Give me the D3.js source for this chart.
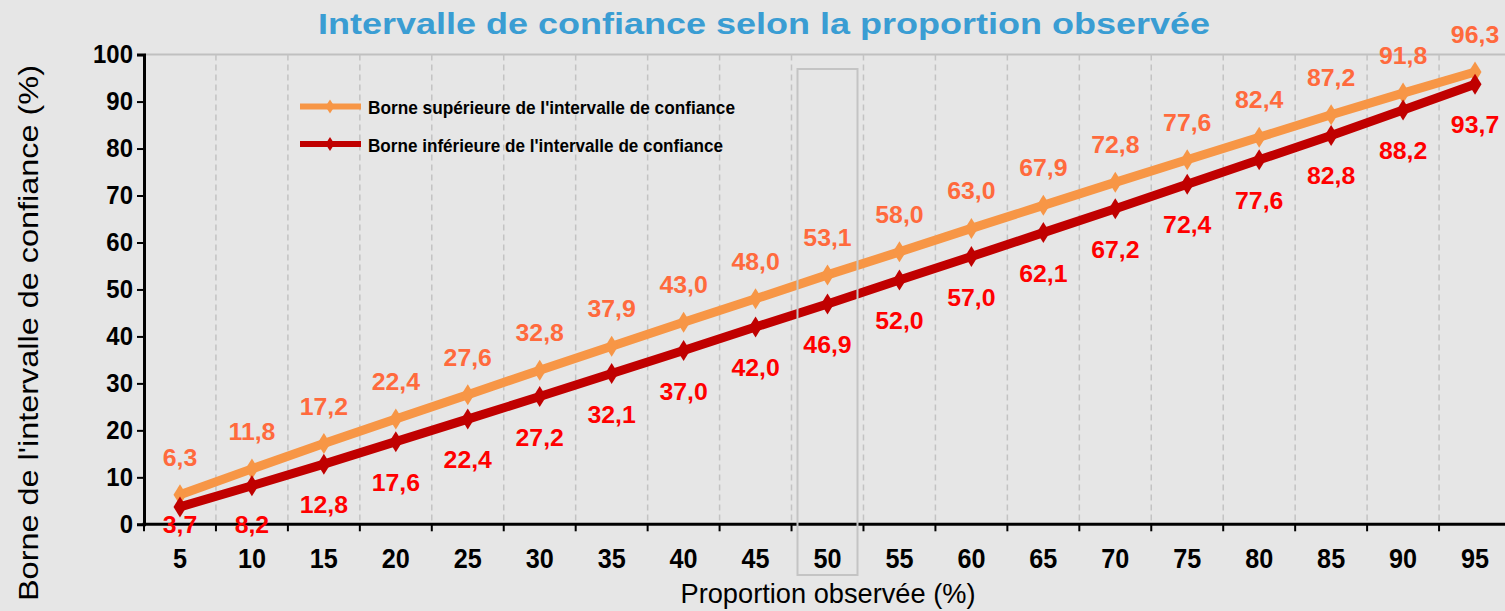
<!DOCTYPE html>
<html lang="fr">
<head>
<meta charset="utf-8">
<script src="https://cdn.jsdelivr.net/npm/d3@7"></script>
<style>
  html, body { margin: 0; padding: 0; background: #e6e6e6; }
  svg { display: block; font-family: "Liberation Sans", Arial, sans-serif; }
</style>
</head>
<body>
<svg id="graphe" width="1505" height="611"></svg>
<script>
// proportions observees (%) sur l'axe x
var proportions = [5, 10, 15, 20, 25, 30, 35, 40, 45, 50, 55, 60, 65, 70, 75, 80, 85, 90, 95];
// bornes
var borneSup = [6.3, 11.8, 17.2, 22.4, 27.6, 32.8, 37.9, 43.0, 48.0, 53.1, 58.0, 63.0, 67.9, 72.8, 77.6, 82.4, 87.2, 91.8, 96.3];
var borneInf = [3.7, 8.2, 12.8, 17.6, 22.4, 27.2, 32.1, 37.0, 42.0, 46.9, 52.0, 57.0, 62.1, 67.2, 72.4, 77.6, 82.8, 88.2, 93.7];
var ticksY = [0, 10, 20, 30, 40, 50, 60, 70, 80, 90, 100];
var categorieMiseEnAvant = 50;

var series = [
  { nom: "Borne supérieure de l'intervalle de confiance", valeurs: borneSup, ligne: "#f79646", texte: "#ff6a3d", decal: -37 },
  { nom: "Borne inférieure de l'intervalle de confiance", valeurs: borneInf, ligne: "#c00000", texte: "#ff0000", decal: 41 }
];

var svg = d3.select("#graphe");
var gauche = 144, droite = 1511, haut = 54.6, bas = 524.3;

var x = d3.scaleBand().domain(proportions).range([gauche, droite]).paddingInner(0).paddingOuter(0);
var y = d3.scaleLinear().domain([0, 100]).range([bas, haut]);

var fr = d3.formatLocale({ decimal: ",", thousands: " ", grouping: [3], currency: ["", " €"] });
var fmt = fr.format(".1f");

// titre
svg.append("text")
  .attr("x", 764).attr("y", 34)
  .attr("text-anchor", "middle")
  .attr("font-size", 29).attr("font-weight", "bold")
  .attr("fill", "#3a9dd3")
  .attr("textLength", 892).attr("lengthAdjust", "spacingAndGlyphs")
  .text("Intervalle de confiance selon la proportion observée");

// ligne du haut
svg.append("line")
  .attr("x1", gauche).attr("x2", 1505)
  .attr("y1", y(100)).attr("y2", y(100))
  .attr("stroke", "#c0c0c0").attr("stroke-width", 2);

// grille verticale pointillee entre categories
var limites = proportions.slice(1).map(function (p) { return x(p); }).concat([x(proportions[proportions.length - 1]) + x.bandwidth()]);
svg.append("g").selectAll("line").data(limites).enter().append("line")
  .attr("x1", function (d) { return d; }).attr("x2", function (d) { return d; })
  .attr("y1", y(100)).attr("y2", bas)
  .attr("stroke", "#c3c3c3").attr("stroke-width", 1.5)
  .attr("stroke-dasharray", "6,4");

// axe y
var axeY = svg.append("g")
  .attr("transform", "translate(" + gauche + ",0)")
  .call(d3.axisLeft(y).tickValues(ticksY).tickSize(7).tickPadding(5).tickFormat(d3.format("d")));
axeY.select(".domain").attr("stroke", "#000").attr("stroke-width", 3);
axeY.selectAll(".tick line").attr("stroke", "#000").attr("stroke-width", 2);
axeY.selectAll(".tick text")
  .attr("font-size", 26).attr("font-weight", "bold").attr("fill", "#000")
  .attr("font-family", "Liberation Sans, Arial, sans-serif")
  .attr("transform", "scale(0.92,1)");

// axe x : ligne, petites marques aux limites, etiquettes au centre
svg.append("line")
  .attr("x1", gauche - 1.5).attr("x2", 1505)
  .attr("y1", bas).attr("y2", bas)
  .attr("stroke", "#000").attr("stroke-width", 3);
svg.append("g").selectAll("line").data([gauche].concat(limites)).enter().append("line")
  .attr("x1", function (d) { return d; }).attr("x2", function (d) { return d; })
  .attr("y1", bas).attr("y2", bas + 7)
  .attr("stroke", "#000").attr("stroke-width", 2);
svg.append("g").selectAll("text").data(proportions).enter().append("text")
  .attr("transform", function (d) {
    return "translate(" + (x(d) + x.bandwidth() / 2) + ",568) scale(0.9,1)";
  })
  .attr("text-anchor", "middle")
  .attr("font-size", 28).attr("font-weight", "bold").attr("fill", "#000")
  .text(function (d) { return d; });

// titres d'axes
svg.append("text")
  .attr("x", 828).attr("y", 603)
  .attr("text-anchor", "middle")
  .attr("font-size", 28).attr("fill", "#000")
  .attr("textLength", 295).attr("lengthAdjust", "spacingAndGlyphs")
  .text("Proportion observée (%)");
svg.append("text")
  .attr("transform", "translate(38,333) rotate(-90)")
  .attr("text-anchor", "middle")
  .attr("font-size", 28).attr("fill", "#000")
  .attr("textLength", 536).attr("lengthAdjust", "spacingAndGlyphs")
  .text("Borne de l'intervalle de confiance (%)");

// courbes
var ligne = d3.line()
  .x(function (d, i) { return x(proportions[i]) + x.bandwidth() / 2; })
  .y(function (d) { return y(d); });

var losange = "M0,-10.5L6.5,0L0,10.5L-6.5,0Z";

series.forEach(function (s) {
  svg.append("path")
    .datum(s.valeurs)
    .attr("d", ligne)
    .attr("fill", "none")
    .attr("stroke", s.ligne)
    .attr("stroke-width", 9)
    .attr("stroke-linejoin", "round");
  svg.append("g").selectAll("path").data(s.valeurs).enter().append("path")
    .attr("d", losange)
    .attr("transform", function (d, i) {
      return "translate(" + (x(proportions[i]) + x.bandwidth() / 2) + "," + y(d) + ")";
    })
    .attr("fill", s.ligne);
});

// etiquettes de valeurs
series.forEach(function (s) {
  svg.append("g").selectAll("text").data(s.valeurs).enter().append("text")
    .attr("transform", function (d, i) {
      var cy = y(d) + s.decal;
      if (s.decal > 0) cy = Math.min(cy, 525);
      return "translate(" + (x(proportions[i]) + x.bandwidth() / 2) + "," + (cy + 8) + ") scale(1.08,1)";
    })
    .attr("text-anchor", "middle")
    .attr("font-size", 23).attr("font-weight", "bold")
    .attr("fill", s.texte)
    .text(function (d) { return fmt(d); });
});

// cadre gris autour de la categorie 50
var bx = x(categorieMiseEnAvant) + x.bandwidth() / 2;
svg.append("rect")
  .attr("x", bx - 30).attr("y", 69)
  .attr("width", 60).attr("height", 506)
  .attr("fill", "none")
  .attr("stroke", "#c4c4c4").attr("stroke-width", 2);

// legende
var leg = svg.append("g");
series.forEach(function (s, i) {
  var ly = 106.5 + i * 37.5;
  leg.append("line")
    .attr("x1", 300).attr("x2", 361).attr("y1", ly).attr("y2", ly)
    .attr("stroke", s.ligne).attr("stroke-width", 6);
  leg.append("path")
    .attr("d", "M0,-7L4.5,0L0,7L-4.5,0Z")
    .attr("transform", "translate(330," + ly + ")")
    .attr("fill", s.ligne);
  leg.append("text")
    .attr("x", 368).attr("y", ly + 7.5)
    .attr("font-size", 19).attr("font-weight", "bold").attr("fill", "#000")
    .attr("textLength", i === 0 ? 367 : 355).attr("lengthAdjust", "spacingAndGlyphs")
    .text(s.nom);
});
</script>
</body>
</html>
